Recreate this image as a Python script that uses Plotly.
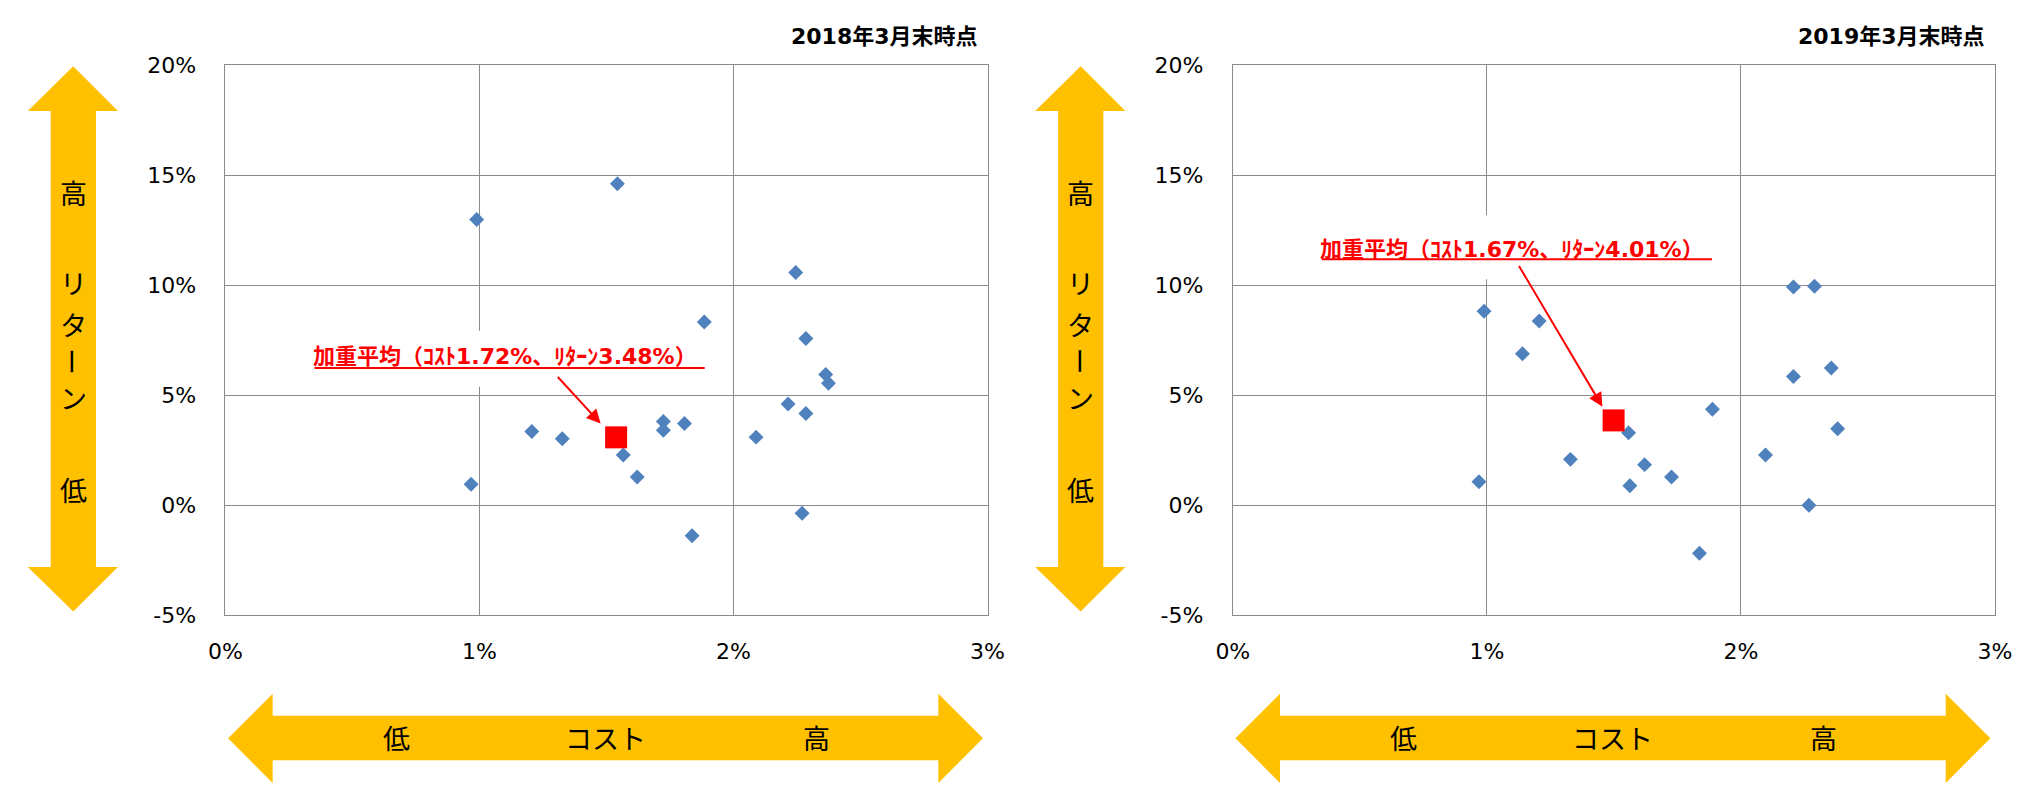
import plotly.graph_objects as go

W, H = 2034, 793

# ---------------- data (percent) ----------------
cost_2018 = [0.989, 1.543, 2.245, 1.885, 2.285, 2.363, 2.374, 2.215, 2.285, 1.724,
             1.724, 1.807, 1.206, 1.326, 2.089, 1.566, 1.621, 0.967, 2.270, 1.837]
ret_2018 = [12.99, 14.62, 10.58, 8.33, 7.58, 5.95, 5.55, 4.61, 4.17, 3.81,
            3.41, 3.72, 3.36, 3.03, 3.10, 2.29, 1.29, 0.96, -0.36, -1.38]
avg_2018 = (1.538, 3.09)

cost_2019 = [0.989, 1.206, 1.140, 2.207, 2.290, 2.207, 2.356, 1.888, 2.381, 1.558,
             1.329, 2.097, 1.621, 1.727, 1.563, 0.969, 2.268, 1.837]
ret_2019 = [8.82, 8.38, 6.89, 9.92, 9.96, 5.86, 6.24, 4.37, 3.48, 3.30,
            2.09, 2.29, 1.85, 1.29, 0.89, 1.07, 0.00, -2.18]
avg_2019 = (1.499, 3.86)

titles = ["2018年3月末時点", "2019年3月末時点"]
avg_labels = ["加重平均（ｺｽﾄ1.72%、ﾘﾀｰﾝ3.48%）", "加重平均（ｺｽﾄ1.67%、ﾘﾀｰﾝ4.01%）"]
# arrow tail -> head in data units
arrow_tail = [(1.303, 5.90), (1.123, 10.95)]
arrow_head = [(1.477, 3.72), (1.455, 4.48)]

x_ticks = [0, 1, 2, 3]
x_ticktext = ["0%", "1%", "2%", "3%"]
y_ticks = [-5, 0, 5, 10, 15, 20]
y_ticktext = ["-5%", "0%", "5%", "10%", "15%", "20%"]

# ---------------- helpers ----------------
def px(x):
    return x / W

def py(y):
    return 1 - y / H

GOLD = "#FFC000"
BLUE = "#4F81BD"
RED = "#FF0000"
GRID = "#8A8A8A"
TICKFONT = dict(family="DejaVu Sans", size=22, color="#000000")
JP = "Noto Sans CJK JP"

offset = 1024.5
plot_left = 212
plot_right = 987
plot_top = 55
plot_bottom = 623

fig = go.Figure()

datasets = [(cost_2018, ret_2018, avg_2018), (cost_2019, ret_2019, avg_2019)]
for i, (cx, ry, avg) in enumerate(datasets):
    xa = "x" if i == 0 else "x2"
    ya = "y" if i == 0 else "y2"
    fig.add_trace(go.Scatter(
        x=cx, y=ry, mode="markers", xaxis=xa, yaxis=ya,
        marker=dict(symbol="diamond", size=11.5, color=BLUE, line=dict(width=0)),
        showlegend=False, hoverinfo="x+y"))
    fig.add_trace(go.Scatter(
        x=[avg[0]], y=[avg[1]], mode="markers", xaxis=xa, yaxis=ya,
        marker=dict(symbol="square", size=22, color=RED, line=dict(width=0)),
        showlegend=False, hoverinfo="x+y"))

axis_common = dict(
    showgrid=True, gridcolor=GRID, gridwidth=1,
    showline=True, linecolor=GRID, linewidth=1, mirror=True,
    zeroline=False, ticks="", tickfont=TICKFONT, tickmode="array",
    fixedrange=True,
)

layout = dict(
    width=W, height=H,
    margin=dict(l=0, r=0, t=0, b=0, pad=0),
    paper_bgcolor="white", plot_bgcolor="white",
    showlegend=False,
)

ydom = [py(plot_bottom), py(plot_top)]
for i in range(2):
    off = offset * i
    xk = "xaxis" if i == 0 else "xaxis2"
    yk = "yaxis" if i == 0 else "yaxis2"
    layout[xk] = dict(axis_common, domain=[px(plot_left + off), px(plot_right + off)],
                      range=[0, 3], tickvals=x_ticks, ticktext=x_ticktext,
                      ticklabelstandoff=16, anchor="y" if i == 0 else "y2")
    layout[yk] = dict(axis_common, domain=ydom, range=[-5, 20], tickvals=y_ticks,
                      ticktext=y_ticktext, ticklabelstandoff=24,
                      anchor="x" if i == 0 else "x2")

fig.update_layout(**layout)

# white boxes behind the labels (hide gridlines), in data units
label_box_x = [(0.283, 1.955), (0.288, 1.963)]
label_box_y = [(5.39, 7.94), (10.27, 13.18)]

shapes = []
annotations = []
for i in range(2):
    o = offset * i
    xa = "x" if i == 0 else "x2"
    ya = "y" if i == 0 else "y2"
    # vertical double arrow
    pts = [(57.2, 56), (102.7, 102.3), (80.3, 102.3), (80.3, 573), (102.7, 573),
           (57.2, 619), (11, 573), (34.3, 573), (34.3, 102.3), (11, 102.3)]
    path = "M " + " L ".join(f"{px(x + o):.5f},{py(y):.5f}" for x, y in pts) + " Z"
    shapes.append(dict(type="path", path=path, xref="paper", yref="paper",
                       fillcolor=GOLD, line=dict(width=0), layer="below"))
    # horizontal double arrow
    pts = [(214.7, 750), (260, 704), (260, 726.7), (937, 726.7), (937, 704),
           (982.4, 750), (937, 796), (937, 772.7), (260, 772.7), (260, 796)]
    path = "M " + " L ".join(f"{px(x + o):.5f},{py(y):.5f}" for x, y in pts) + " Z"
    shapes.append(dict(type="path", path=path, xref="paper", yref="paper",
                       fillcolor=GOLD, line=dict(width=0), layer="below"))

    # white box behind label
    shapes.append(dict(type="rect", xref=xa, yref=ya,
                       x0=label_box_x[i][0], x1=label_box_x[i][1],
                       y0=label_box_y[i][0], y1=label_box_y[i][1],
                       fillcolor="white", line=dict(width=0), layer="between"))

    # vertical arrow text
    for ch, yy, ang in [("高", 186.4, 0), ("リ", 279.5, 0), ("タ", 322.6, 0),
                        ("ー", 360.6, 90), ("ン", 398, 0), ("低", 493, 0)]:
        annotations.append(dict(text=ch, x=px(57.2 + o), y=py(yy), xref="paper", yref="paper",
                                xanchor="center", yanchor="middle", showarrow=False,
                                textangle=ang, font=dict(family=JP, size=27, color="#000000")))
    # horizontal arrow text
    for txt, xx in [("低", 386), ("コスト", 598.6), ("高", 813)]:
        annotations.append(dict(text=txt, x=px(xx + o), y=py(748.7), xref="paper", yref="paper",
                                xanchor="center", yanchor="middle", showarrow=False,
                                font=dict(family=JP, size=27, color="#000000")))
    # title
    annotations.append(dict(text="<b>" + titles[i] + "</b>", x=px(979 + o), y=py(25),
                            xref="paper", yref="paper", xanchor="right", yanchor="middle",
                            showarrow=False,
                            font=dict(family="DejaVu Sans, " + JP, size=22, color="#000000")))
    # weighted-average label
    cy = 356 if i == 0 else 245
    annotations.append(dict(text="<b>" + avg_labels[i] + "</b>", x=px(496 + o), y=py(cy),
                            xref="paper", yref="paper", xanchor="center", yanchor="middle",
                            showarrow=False,
                            font=dict(family="DejaVu Sans, " + JP, size=22, color=RED)))
    uy = 367.7 if i == 0 else 255.4
    shapes.append(dict(type="line", xref="paper", yref="paper",
                       x0=px(302.5 + o), x1=px(699.4 + o), y0=py(uy), y1=py(uy),
                       line=dict(color=RED, width=2), layer="above"))
    # arrow
    annotations.append(dict(text="", x=arrow_head[i][0], y=arrow_head[i][1], xref=xa, yref=ya,
                            ax=arrow_tail[i][0], ay=arrow_tail[i][1], axref=xa, ayref=ya,
                            showarrow=True, arrowhead=2, arrowsize=1.4, arrowwidth=2,
                            arrowcolor=RED, standoff=0))

fig.update_layout(shapes=shapes, annotations=annotations)

fig.write_html("out.html", config={"displayModeBar": False},
               post_script="document.body.style.margin='0';document.body.style.overflow='hidden';")
